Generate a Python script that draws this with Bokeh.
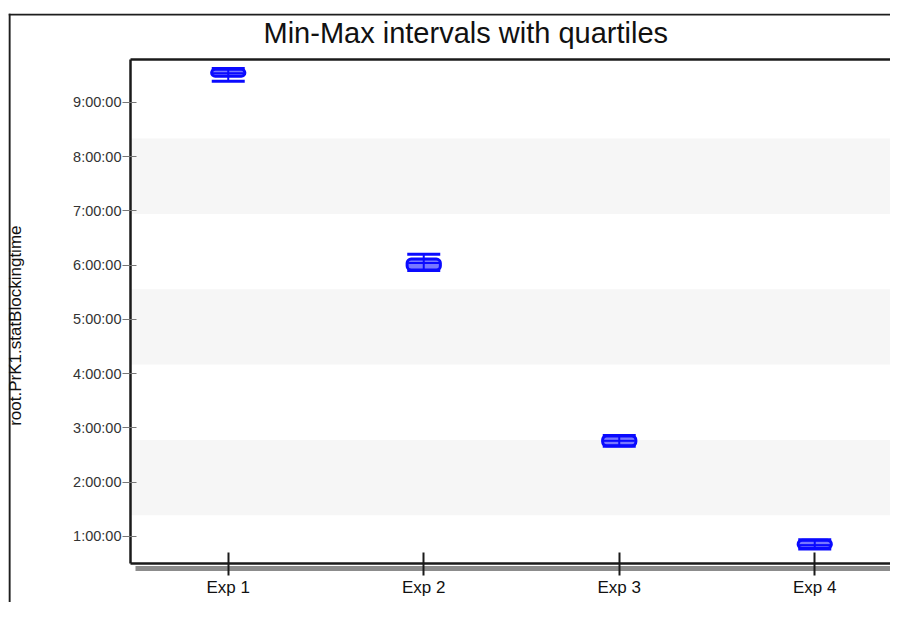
from bokeh.plotting import figure
from bokeh.models import Range1d, FixedTicker, BoxAnnotation, Label, LinearAxis
from bokeh.embed import file_html
from bokeh.resources import INLINE

# ---- data (seconds) ----
categories = ["Exp 1", "Exp 2", "Exp 3", "Exp 4"]
mins    = [33800, 21240, 9580, 2770]
q1s     = [34130, 21280, 9610, 2810]
medians = [34340, 21740, 9940, 3020]
q3s     = [34600, 22000, 10260, 3350]
maxs    = [34640, 22320, 10290, 3380]

tick_values = [3600, 7200, 10800, 14400, 18000, 21600, 25200, 28800, 32400]
tick_labels = ["1:00:00", "2:00:00", "3:00:00", "4:00:00", "5:00:00",
               "6:00:00", "7:00:00", "8:00:00", "9:00:00"]
band_edges = [(5000, 10000), (15000, 20000), (25000, 30000)]
title_text = "Min-Max intervals with quartiles"
y_title = "root.PrK1.statBlockingtime"

# inner plotting area (data space)
y_lo, y_hi = 1800, 35245
x_lo, x_hi = 0.0, 3.8875
# the figure frame is the outer chart box; pixel scale of the inner area
PX_X = 1 / 195.5
PX_Y = 3600 / 54.25
xs = [i + 0.5 for i in range(len(categories))]

FONT = "Liberation Sans"
BLUE = "#0a0aff"

x0_frame = x_lo - 122 * PX_X
y0_frame = y_lo - 39 * PX_Y
y1_frame = y_lo + 550 * PX_Y

p = figure(width=890, height=602, output_backend="svg", toolbar_location=None,
           x_range=Range1d(x0_frame, x_hi), y_range=Range1d(y0_frame, y1_frame),
           x_axis_type=None, y_axis_type=None,
           min_border_left=8, min_border_right=0, min_border_bottom=0,
           min_border_top=13)
p.outline_line_color = None
p.background_fill_color = "white"
p.border_fill_color = "white"
p.title = None

for b0, b1 in band_edges:
    p.add_layout(BoxAnnotation(left=x_lo, bottom=b0, top=b1, fill_color="#f6f6f6",
                               fill_alpha=1.0, line_color=None, level="underlay"))

def bare_axis(**kw):
    return LinearAxis(ticker=FixedTicker(ticks=[]), major_label_text_font_size="0px",
                      major_tick_in=0, major_tick_out=0, minor_tick_in=0, minor_tick_out=0,
                      major_label_standoff=0, **kw)

# outer chart border (left and top edges)
p.add_layout(bare_axis(fixed_location=x0_frame + 1.2 * PX_X, bounds=(y0_frame, y1_frame),
                       axis_line_color="#1e1e1e", axis_line_width=2.2), "left")
p.add_layout(bare_axis(fixed_location=y1_frame - 1.2 * PX_Y, bounds=(x0_frame, x_hi),
                       axis_line_color="#1e1e1e", axis_line_width=2.2), "above")
# top edge of the plotting area
p.add_layout(bare_axis(fixed_location=y_hi, bounds=(x_lo, x_hi),
                       axis_line_color="#1a1a1a", axis_line_width=2.5), "above")
# drop shadow under the bottom axis
p.add_layout(bare_axis(fixed_location=y_lo - 4.5 * PX_Y, bounds=(x_lo + 5 * PX_X, x_hi),
                       axis_line_color="#8c8c8c", axis_line_width=5), "below")

# y axis
ya = LinearAxis(fixed_location=x_lo, bounds=(y_lo, y_hi),
                ticker=FixedTicker(ticks=tick_values))
ya.major_label_overrides = {v: l for v, l in zip(tick_values, tick_labels)}
ya.axis_label = y_title + "\u00a0" * 6
ya.axis_label_text_font = FONT
ya.axis_label_text_font_size = "17px"
ya.axis_label_text_font_style = "normal"
ya.axis_label_text_color = "#111111"
ya.axis_label_standoff = 45
ya.major_label_text_font = FONT
ya.major_label_text_font_size = "14.5px"
ya.major_label_text_color = "#333333"
ya.major_label_standoff = 1
ya.axis_line_color = "#1a1a1a"
ya.axis_line_width = 2.5
ya.major_tick_line_color = "#777777"
ya.major_tick_line_width = 1
ya.major_tick_in = 6
ya.major_tick_out = 8
ya.minor_tick_line_color = None
p.add_layout(ya, "left")

# x axis
xa = LinearAxis(fixed_location=y_lo, bounds=(x_lo, x_hi), ticker=FixedTicker(ticks=xs))
xa.major_label_overrides = {x: c for x, c in zip(xs, categories)}
xa.major_label_text_font = FONT
xa.major_label_text_font_size = "17px"
xa.major_label_text_color = "#111111"
xa.major_label_standoff = 2
xa.axis_line_color = "#1a1a1a"
xa.axis_line_width = 2.5
xa.major_tick_line_color = "#1a1a1a"
xa.major_tick_line_width = 2
xa.major_tick_in = 11
xa.major_tick_out = 12
xa.minor_tick_line_color = None
p.add_layout(xa, "below")

# title
p.add_layout(Label(x=x_lo + 133 * PX_X, y=y_hi + 27 * PX_Y, text=title_text,
                   text_font=FONT, text_font_size="29px", text_color="#111111",
                   text_align="left", text_baseline="alphabetic"))

# boxes
box_w = 0.17
p.vbar(x=xs, width=box_w, bottom=q1s, top=q3s, fill_color="#7878ff",
       line_color=BLUE, line_width=3, border_radius=4)
p.dash(x=xs, y=medians, size=31, line_color=BLUE, line_width=2)
p.segment(x0=xs, y0=mins, x1=xs, y1=maxs, line_color=BLUE, line_width=2)
p.dash(x=xs, y=maxs, size=33, line_color=BLUE, line_width=3)
p.dash(x=xs, y=mins, size=33, line_color=BLUE, line_width=3)

open("out.html", "w").write(file_html(p, INLINE))
